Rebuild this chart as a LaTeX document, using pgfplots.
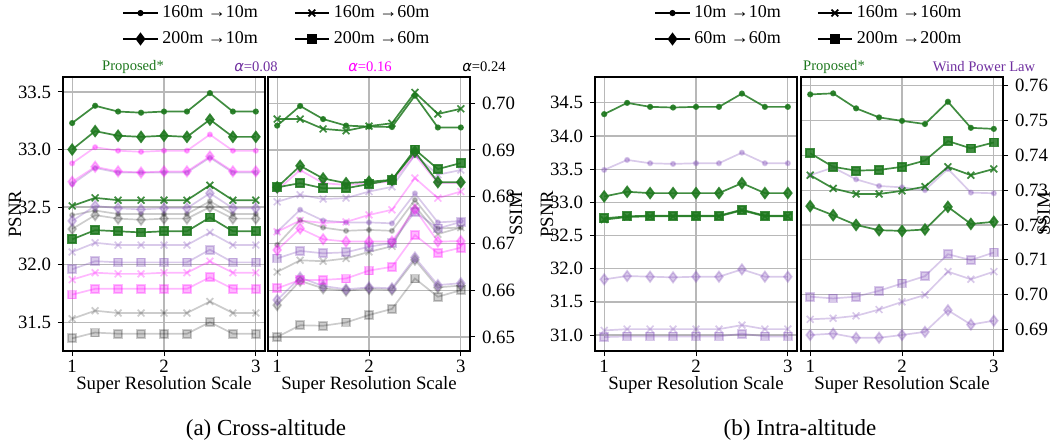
\documentclass[border=0pt]{standalone}
\usepackage{pgfplots}
\pgfplotsset{compat=1.18}
\usepackage{pgfplotstable}
\usepackage{fontspec}
\setmainfont{Liberation Serif}
\newfontfamily\dejavu{DejaVu Sans}
\definecolor{pgreen}{RGB}{30,120,30}
\definecolor{ptext}{RGB}{112,48,160}
\definecolor{plav}{RGB}{130,80,185}
\definecolor{mag}{RGB}{255,0,255}

% Cross-altitude PSNR
\pgfplotstableread{
x gd gdi gx gs pd pdi px ps md mdi mx ms kd kdi kx ks
1    33.23 33.00 32.51 32.22 32.70 32.38 32.11 31.96 32.88 32.72 31.87 31.74 32.43 32.31 31.53 31.36
1.25 33.38 33.16 32.58 32.30 32.84 32.51 32.19 32.03 33.02 32.85 31.93 31.79 32.47 32.43 31.60 31.41
1.5  33.33 33.12 32.56 32.29 32.80 32.49 32.17 32.02 32.99 32.81 31.92 31.79 32.44 32.40 31.58 31.40
1.75 33.32 33.11 32.56 32.28 32.80 32.48 32.17 32.02 32.98 32.80 31.92 31.79 32.44 32.39 31.58 31.40
2    33.33 33.12 32.56 32.29 32.80 32.49 32.17 32.02 32.99 32.81 31.93 31.79 32.44 32.40 31.58 31.40
2.25 33.33 33.11 32.56 32.29 32.80 32.49 32.17 32.02 32.99 32.81 31.93 31.79 32.44 32.40 31.58 31.40
2.5  33.49 33.26 32.69 32.41 32.93 32.62 32.28 32.13 33.13 32.94 32.03 31.89 32.55 32.50 31.68 31.50
2.75 33.33 33.11 32.56 32.29 32.80 32.49 32.17 32.02 32.99 32.81 31.93 31.79 32.44 32.40 31.58 31.40
3    33.33 33.11 32.56 32.29 32.80 32.49 32.17 32.02 32.99 32.81 31.93 31.79 32.44 32.40 31.58 31.40
}\crosspsnr

% Cross-altitude SSIM
\pgfplotstableread{
x gd gdi gx gs pd pdi px ps md mdi mx ms kd kdi kx ks
1    0.6952 0.6820 0.6966 0.6820 0.6725 0.6579 0.6789 0.6668 0.6814 0.6686 0.6725 0.6604 0.6697 0.6568 0.6639 0.6500
1.25 0.6994 0.6866 0.6966 0.6829 0.6772 0.6627 0.6804 0.6684 0.6857 0.6732 0.6749 0.6622 0.6750 0.6620 0.6664 0.6525
1.5  0.6966 0.6839 0.6945 0.6818 0.6749 0.6609 0.6795 0.6679 0.6829 0.6709 0.6744 0.6622 0.6734 0.6604 0.6662 0.6524
1.75 0.6952 0.6829 0.6941 0.6818 0.6745 0.6602 0.6797 0.6681 0.6825 0.6704 0.6746 0.6625 0.6727 0.6599 0.6668 0.6531
2    0.6950 0.6832 0.6951 0.6827 0.6745 0.6606 0.6811 0.6693 0.6829 0.6704 0.6761 0.6642 0.6729 0.6603 0.6682 0.6547
2.25 0.6949 0.6836 0.6957 0.6836 0.6743 0.6604 0.6821 0.6701 0.6832 0.6704 0.6772 0.6650 0.6727 0.6601 0.6694 0.6560
2.5  0.7016 0.6896 0.7023 0.6901 0.6807 0.6670 0.6889 0.6768 0.6889 0.6773 0.6840 0.6718 0.6793 0.6665 0.6780 0.6625
2.75 0.6948 0.6831 0.6977 0.6859 0.6745 0.6611 0.6847 0.6732 0.6829 0.6704 0.6797 0.6679 0.6732 0.6606 0.6720 0.6586
3    0.6948 0.6831 0.6988 0.6872 0.6748 0.6615 0.6857 0.6746 0.6829 0.6705 0.6811 0.6691 0.6734 0.6610 0.6734 0.6600
}\crossssim

% Intra-altitude PSNR
\pgfplotstableread{
x gd gdi gx gs pd pdi px ps
1    34.33 33.09 32.74 32.76 33.49 31.84 31.07 30.97
1.25 34.50 33.16 32.78 32.79 33.64 31.89 31.09 30.98
1.5  34.44 33.14 32.79 32.80 33.59 31.88 31.09 30.98
1.75 34.43 33.14 32.79 32.80 33.58 31.87 31.09 30.98
2    34.44 33.14 32.79 32.80 33.59 31.88 31.09 30.98
2.25 34.44 33.14 32.79 32.80 33.59 31.88 31.09 30.98
2.5  34.64 33.29 32.88 32.89 33.75 31.99 31.15 31.02
2.75 34.44 33.14 32.79 32.80 33.59 31.88 31.09 30.98
3    34.44 33.14 32.79 32.80 33.59 31.88 31.09 30.98
}\intrapsnr

% Intra-altitude SSIM
\pgfplotstableread{
x gd gdi gx gs pd pdi px ps
1    0.7575 0.7254 0.7343 0.7406 0.7343 0.6884 0.6929 0.6994
1.25 0.7578 0.7228 0.7305 0.7367 0.7365 0.6888 0.6932 0.6989
1.5  0.7535 0.7200 0.7289 0.7356 0.7331 0.6876 0.6939 0.6994
1.75 0.7509 0.7185 0.7289 0.7358 0.7312 0.6876 0.6957 0.7011
2    0.7499 0.7183 0.7298 0.7367 0.7308 0.6884 0.6979 0.7032
2.25 0.7490 0.7187 0.7310 0.7385 0.7300 0.6893 0.6999 0.7053
2.5  0.7554 0.7252 0.7367 0.7441 0.7361 0.6955 0.7066 0.7116
2.75 0.7479 0.7203 0.7343 0.7420 0.7293 0.6914 0.7044 0.7099
3    0.7476 0.7209 0.7361 0.7437 0.7291 0.6925 0.7066 0.7121
}\intrassim

\pgfplotsset{
  base/.style={
    scale only axis, width=101pt, height=137pt,
    xmin=0.9, xmax=3.1, xtick={1,2,3},
    grid=major, grid style={color=black!28, line width=0.6pt},
    tick align=outside, xtick pos=bottom,
    major tick length=2.5pt,
    tick style={black, line width=0.5pt},
    axis line style={line width=0.6pt},
    ticklabel style={font=\fontsize{9.4}{11}\selectfont},
    label style={font=\fontsize{9.4}{11}\selectfont},
    /pgf/number format/assume math mode=true,
    xlabel={Super Resolution Scale},
    xlabel style={at={(axis description cs:0.5,0)}, anchor=center, yshift=-17pt},
    xticklabel style={yshift=1.5pt},
    every axis plot/.append style={line width=0.85pt, forget plot},
  },
  leftlab/.style={ylabel style={at={(axis description cs:0,0.5)}, anchor=center, yshift=24pt}},
  rightlab/.style={ylabel style={at={(axis description cs:1,0.5)}, anchor=center, yshift=-#1}},
  psnrfmt/.style={yticklabel style={/pgf/number format/.cd, fixed, fixed zerofill, precision=1}},
  ssimfmt/.style={yticklabel style={/pgf/number format/.cd, fixed, fixed zerofill, precision=2}},
  dotS/.style={mark=*, mark size=1.1pt},
  diaS/.style={mark=diamond*, mark size=2.6pt},
  xS/.style={mark=x, mark size=2.4pt},
  sqS/.style={mark=square*, mark size=2pt},
  G/.style={color=pgreen, opacity=0.85},
  P/.style={color=plav, opacity=0.3},
  M/.style={color=mag, opacity=0.28},
  K/.style={color=black, opacity=0.2},
  legimg/.style={line width=0.85pt, black},
}

% #1 table, #2 style, #3 column prefix
\newcommand{\fourplots}[3]{%
  \addplot[#2, dotS] table[x=x, y=#3d] {#1};
  \addplot[#2, diaS] table[x=x, y=#3di] {#1};
  \addplot[#2, xS] table[x=x, y=#3x] {#1};
  \addplot[#2, sqS] table[x=x, y=#3s] {#1};
}

\begin{document}
\begin{tikzpicture}
\useasboundingbox (0,0) rectangle (526pt,222pt);

% (a) PSNR
\begin{axis}[base, psnrfmt, leftlab, at={(31.5pt,46.5pt)}, anchor=south west,
  ymin=31.25, ymax=33.63, ytick={31.5,32,32.5,33,33.5}, ytick pos=left,
  ylabel={PSNR},
  legend columns=2,
  legend style={at={(1.064,1.186)}, anchor=center, draw=none, fill=none,
    font=\fontsize{9}{11}\selectfont, row sep=1.5pt,
    /tikz/every even column/.append style={column sep=16pt}},
]
\addlegendimage{legimg, mark=*, mark size=1.1pt}
\addlegendimage{legimg, mark=x, mark size=2.4pt}
\addlegendimage{legimg, mark=diamond*, mark size=2.6pt}
\addlegendimage{legimg, mark=square*, mark size=2pt}
\legend{160m →10m, 160m →60m, 200m →10m, 200m →60m}
\fourplots{\crosspsnr}{K}{k}
\fourplots{\crosspsnr}{P}{p}
\fourplots{\crosspsnr}{M}{m}
\fourplots{\crosspsnr}{G}{g}
\end{axis}

% (a) SSIM
\begin{axis}[base, ssimfmt, rightlab=23pt, at={(134pt,46.5pt)}, anchor=south west,
  ymin=0.6470, ymax=0.7056, ytick={0.65,0.66,0.67,0.68,0.69,0.70}, ytick pos=right, yticklabel pos=right,
  ylabel={SSIM},
]
\fourplots{\crossssim}{K}{k}
\fourplots{\crossssim}{P}{p}
\fourplots{\crossssim}{M}{m}
\fourplots{\crossssim}{G}{g}
\end{axis}

% (b) PSNR
\begin{axis}[base, psnrfmt, leftlab, at={(297.5pt,46.5pt)}, anchor=south west,
  ymin=30.76, ymax=34.89, ytick={31,31.5,32,32.5,33,33.5,34,34.5}, ytick pos=left,
  ylabel={PSNR},
  legend columns=2,
  legend style={at={(1.064,1.186)}, anchor=center, draw=none, fill=none,
    font=\fontsize{9}{11}\selectfont, row sep=1.5pt,
    /tikz/every even column/.append style={column sep=16pt}},
]
\addlegendimage{legimg, mark=*, mark size=1.1pt}
\addlegendimage{legimg, mark=x, mark size=2.4pt}
\addlegendimage{legimg, mark=diamond*, mark size=2.6pt}
\addlegendimage{legimg, mark=square*, mark size=2pt}
\legend{10m →10m, 160m →160m, 60m →60m, 200m →200m}
\fourplots{\intrapsnr}{P}{p}
\fourplots{\intrapsnr}{G}{g}
\end{axis}

% (b) SSIM
\begin{axis}[base, ssimfmt, rightlab=20.3pt, at={(400.5pt,46.5pt)}, anchor=south west,
  ymin=0.6838, ymax=0.7625, ytick={0.69,0.70,0.71,0.72,0.73,0.74,0.75,0.76}, ytick pos=right, yticklabel pos=right,
  ylabel={SSIM},
]
\fourplots{\intrassim}{P}{p}
\fourplots{\intrassim}{G}{g}
\end{axis}

% method labels
\begin{scope}[every node/.style={font=\fontsize{7.3}{9}\selectfont, anchor=center}]
\node[text=pgreen] at (66.5pt,188.5pt) {Proposed*};
\node[text=ptext] at (128pt,188.5pt) {{\dejavu\itshape α}=0.08};
\node[text=mag] at (185pt,188.5pt) {{\dejavu\itshape α}=0.16};
\node[text=black] at (242pt,188.5pt) {{\dejavu\itshape α}=0.24};
\node[text=pgreen] at (417pt,188.5pt) {Proposed*};
\node[text=ptext] at (492pt,188.5pt) {Wind Power Law};
\end{scope}

% captions
\node[font=\fontsize{11.5}{13}\selectfont] at (133pt,7pt) {(a) Cross-altitude};
\node[font=\fontsize{11.5}{13}\selectfont] at (400pt,7pt) {(b) Intra-altitude};
\end{tikzpicture}
\end{document}
